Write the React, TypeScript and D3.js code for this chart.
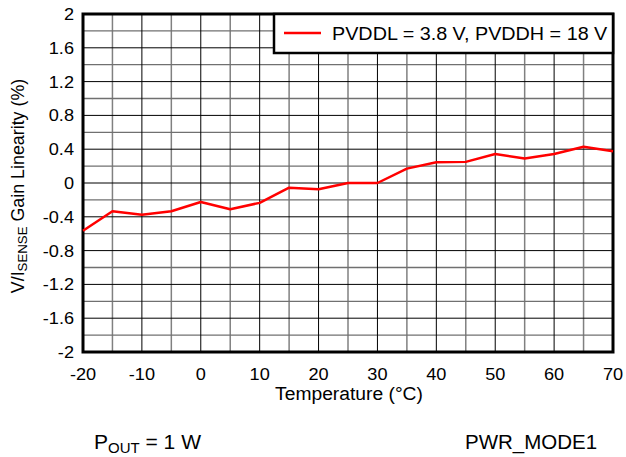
import React from "react";
import * as d3 from "d3";

const temps = [-20, -15, -10, -5, 0, 5, 10, 15, 20, 25, 30, 35, 40, 45, 50, 55, 60, 65, 70];
const linearity = [-0.565, -0.335, -0.375, -0.335, -0.225, -0.31, -0.235, -0.055, -0.075, 0.0, 0.0, 0.17, 0.245, 0.25, 0.343, 0.29, 0.343, 0.43, 0.375];
const xTicks = [-20, -10, 0, 10, 20, 30, 40, 50, 60, 70];
const yTicks = [-2, -1.6, -1.2, -0.8, -0.4, 0, 0.4, 0.8, 1.2, 1.6, 2];
const xMinor = [-15, -5, 5, 15, 25, 35, 45, 55, 65];
const yMinor = [-1.8, -1.4, -1.0, -0.6, -0.2, 0.2, 0.6, 1.0, 1.4, 1.8];
const seriesLabel = "PVDDL = 3.8 V, PVDDH = 18 V";

const W = 626;
const H = 457;
const L = 83, R = 613, T = 14, B = 352;
const FONT = "'Liberation Sans', Arial, Helvetica, sans-serif";

export default function App() {
  const x = d3.scaleLinear().domain([-20, 70]).range([L, R]);
  const y = d3.scaleLinear().domain([-2, 2]).range([B, T]);
  const line = d3.line<number>().x((_, i) => x(temps[i])).y((d) => y(d));
  const sx = 1.1;
  return (
    <svg width={W} height={H} style={{ position: "absolute", left: 0, top: 0, background: "#fff" }} fontFamily={FONT}>
      <rect x={0} y={0} width={W} height={H} fill="#fff" />
      {xMinor.map((v) => (
        <line key={"xm" + v} x1={x(v)} x2={x(v)} y1={T} y2={B} stroke="#808080" strokeWidth={1.5} />
      ))}
      {yMinor.map((v) => (
        <line key={"ym" + v} x1={L} x2={R} y1={y(v)} y2={y(v)} stroke="#707070" strokeWidth={1.3} />
      ))}
      {xTicks.map((v) => (
        <line key={"xg" + v} x1={x(v)} x2={x(v)} y1={T} y2={B} stroke="#000" strokeWidth={1} />
      ))}
      {yTicks.map((v) => (
        <line key={"yg" + v} x1={L} x2={R} y1={y(v)} y2={y(v)} stroke="#000" strokeWidth={1} />
      ))}
      <rect x={L} y={T} width={R - L} height={B - T} fill="none" stroke="#000" strokeWidth={3} />
      <path d={line(linearity) || ""} fill="none" stroke="#ff0000" strokeWidth={2.5} strokeLinejoin="round" />
      {/* legend */}
      <rect x={274} y={T} width={R - 274} height={39} fill="#fff" stroke="#000" strokeWidth={2.5} />
      <line x1={284} x2={321} y1={33} y2={33} stroke="#ff0000" strokeWidth={2.5} />
      <text transform={`translate(332,40) scale(1.13,1)`} fontSize={17.5} fill="#000">{seriesLabel}</text>
      {/* y tick labels */}
      {yTicks.map((v) => (
        <text key={"yl" + v} transform={`translate(74,${y(v) + 6}) scale(${sx},1)`} fontSize={16.5} textAnchor="end" fill="#000">
          {String(v)}
        </text>
      ))}
      {xTicks.map((v) => (
        <text key={"xl" + v} transform={`translate(${x(v)},380) scale(${sx},1)`} fontSize={16.5} textAnchor="middle" fill="#000">
          {String(v)}
        </text>
      ))}
      <text transform={`translate(349,400) scale(1.07,1)`} fontSize={18} textAnchor="middle" fill="#000">Temperature (°C)</text>
      <text transform={`translate(24,186) rotate(-90) scale(1.02,1)`} fontSize={17.5} textAnchor="middle" fill="#000">
        V/I<tspan fontSize={13} dy={3}>SENSE</tspan><tspan dy={-3}> Gain Linearity (%)</tspan>
      </text>
      <text x={94} y={449} fontSize={21} fill="#000">
        P<tspan fontSize={15} dy={4}>OUT</tspan><tspan dy={-4}> = 1 W</tspan>
      </text>
      <text x={465} y={449} fontSize={20.5} fill="#000">PWR_MODE1</text>
    </svg>
  );
}
